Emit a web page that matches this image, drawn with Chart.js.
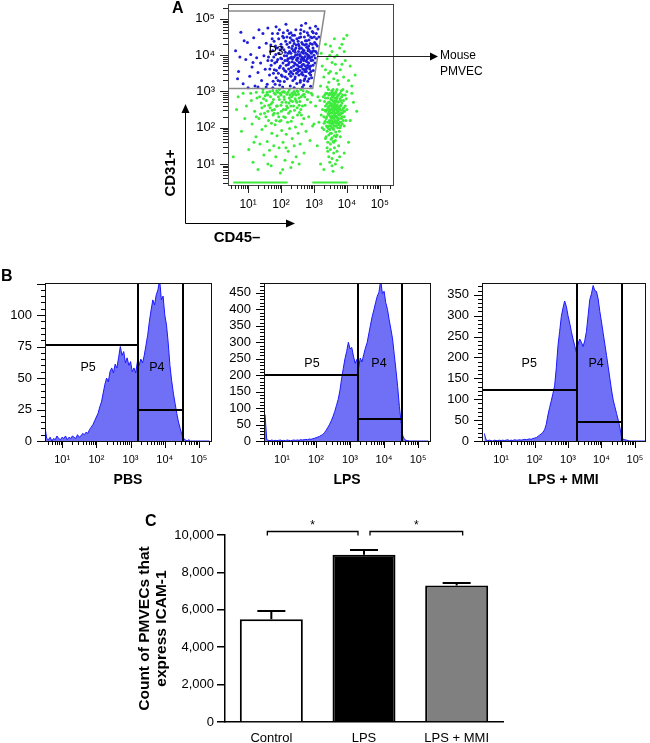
<!DOCTYPE html>
<html><head><meta charset="utf-8"><title>ICAM-1 expression in mouse PMVECs</title>
<script src="https://cdn.jsdelivr.net/npm/chart.js@4.4.1/dist/chart.umd.min.js"></script>
<style>
html,body{margin:0;padding:0;background:#fff;}
body{width:650px;height:743px;position:relative;overflow:hidden;font-family:"Liberation Sans",Arial,Helvetica,sans-serif;}
.cv{position:absolute;}
.lbl{position:absolute;white-space:nowrap;color:#000;}
.panel{font-weight:bold;font-size:16px;line-height:16px;}
.axt{font-weight:bold;font-size:15px;line-height:18px;height:18px;width:60px;text-align:center;}
</style></head>
<body>
<canvas id="cA" class="cv" width="210" height="210" style="left:190px;top:0px"></canvas>
<canvas id="cPBS" class="cv" width="211" height="215" style="left:5px;top:275px"></canvas>
<canvas id="cLPS" class="cv" width="211" height="215" style="left:224px;top:275px"></canvas>
<canvas id="cMMI" class="cv" width="208" height="215" style="left:442px;top:275px"></canvas>
<canvas id="cC" class="cv" width="383" height="238" style="left:130px;top:505px"></canvas>
<svg width="650" height="743" style="position:absolute;left:0;top:0;pointer-events:none">
  <g stroke="#000" stroke-width="1" fill="none">
    <line x1="185.5" y1="223.5" x2="185.5" y2="111"/>
    <line x1="185.5" y1="223.5" x2="288" y2="223.5"/>
    <line x1="317" y1="56.5" x2="431" y2="56.5" stroke="#222"/>
  </g>
  <g fill="#000">
    <polygon points="185.5,104 181.5,113 189.5,113"/>
    <polygon points="295,223.5 286,219.5 286,227.5"/>
    <polygon points="438,56.5 430,52.5 430,60.5"/>
  </g>
</svg>
<div class="lbl panel" style="left:172px;top:0px">A</div>
<div class="lbl panel" style="left:1px;top:268px">B</div>
<div class="lbl panel" style="left:145px;top:513px">C</div>
<div class="lbl" style="left:440px;top:46.6px;font-size:12px;line-height:16.5px">Mouse<br>PMVEC</div>
<div class="lbl axt" style="left:140px;top:164px;transform:rotate(-90deg)">CD31+</div>
<div class="lbl axt" style="left:207px;top:228px">CD45–</div>
<script>
// ---------- Panel A: CD45 (x) vs CD31 (y), values in decades (log10 of fluorescence) ----------
const decadeValues = [1, 2, 3, 4, 5];
const decadeLabels = ['10¹', '10²', '10³', '10⁴', '10⁵'];
const gateP3 = [[0.39, 5.22], [3.33, 5.22], [2.96, 3.08], [0.39, 3.08]];
const floorLevel = 0.49;
const floorSegments = [[0.55, 2.2], [2.95, 4.02]];
const blueCells = [
[0.62,4.12],[0.71,3.55],[0.78,4.63],[0.85,3.21],[0.93,3.88],[0.98,4.35],[1.05,3.42],[1.08,4.02],[1.12,3.67],[1.17,4.48],[1.21,3.15],[1.26,3.93],[1.3,3.52],[1.34,4.21],[1.38,3.78],[1.41,3.3],[1.45,4.6],[1.48,3.98],[1.52,3.61],[1.55,4.33],[1.58,3.2],[1.6,3.85],[0.75,3.95],[0.88,4.4],[1.15,3.8],[1.0,3.1],[1.33,4.7],[0.68,3.35],
[1.65,3.45],[1.68,4.1],[1.7,3.72],[1.73,4.45],[1.76,3.28],[1.78,3.95],[1.8,3.6],[1.83,4.25],[1.85,3.38],[1.87,3.82],[1.9,4.6],[1.92,3.5],[1.94,4.05],[1.96,3.18],[1.98,3.7],[2.0,4.3],[2.02,3.9],[2.04,3.42],[2.05,4.52],[2.07,3.63],[2.09,4.15],[2.1,3.27],[2.12,3.85],[2.14,4.38],[2.15,3.55],[2.17,3.98],[2.19,3.35],[2.2,4.68],[2.22,3.74],[2.24,4.22],[2.25,3.48],[2.27,3.92],[2.28,3.15],[2.3,4.05],[2.31,3.66],[2.33,4.42],[2.34,3.82],[2.36,3.3],[2.37,4.12],[2.39,3.58],[2.4,3.95],[2.41,4.55],[2.43,3.4],[2.44,3.75],[2.46,4.28],[2.47,3.88],[2.48,3.22],[2.5,4.02],[2.51,3.62],[2.52,4.38],[2.54,3.45],[2.55,3.8],[2.56,4.18],[2.58,3.98],[2.59,3.3],[2.6,4.5],[2.61,3.68],[2.63,4.08],[2.64,3.52],[2.65,3.9],[2.66,4.3],[2.68,3.75],[2.69,3.18],[2.7,4.12],[2.71,3.6],[2.73,3.96],[2.74,4.4],[2.75,3.42],[2.76,3.84],[2.78,4.22],[2.79,3.65],[2.8,4.02],[2.81,3.28],[2.83,4.55],[2.84,3.78],[2.85,4.14],[2.86,3.5],[2.88,3.92],[2.89,4.32],[2.9,3.7],[2.92,4.05],[2.93,3.38],[2.94,4.48],[2.96,3.86],[2.97,4.2],[2.98,3.58],[3.0,4.0],[3.02,4.35],[3.03,3.78],[3.05,4.1],[3.07,4.6],[3.1,4.25],[3.12,4.72],[3.15,4.5],
[2.21,3.9],[2.26,4.1],[2.29,3.55],[2.32,3.95],[2.35,4.25],[2.38,3.7],[2.42,4.15],[2.45,3.6],[2.49,3.85],[2.53,4.1],[2.57,3.58],[2.6,3.82],[2.62,4.2],[2.67,3.45],[2.7,3.88],[2.72,4.28],[2.77,3.55],[2.8,3.9],[2.82,4.12],[2.87,3.62],[2.91,3.85],[2.23,3.62],[2.27,4.35],[2.36,3.48],[2.44,4.0],[2.5,3.72],[2.55,4.25],[2.58,3.8],[2.63,3.95],[2.68,4.05],[2.74,3.7],[2.78,4.4],[2.85,3.98],[2.4,4.32],[2.47,3.5],[2.52,3.92],[2.66,3.62],[2.72,3.35],[2.81,3.72],[2.95,4.1],
[1.85,4.78],[2.15,4.85],[2.45,4.7],[2.62,4.82],[2.88,4.75],[2.98,4.62],[3.05,4.8],[2.3,4.62],[1.6,4.75],[2.75,4.88],
[1.3,3.12],[1.75,3.1],[2.05,3.12],[2.4,3.1],[2.65,3.12],[2.9,3.14],[1.55,3.12],
[2.22,4.05],[2.25,3.8],[2.28,4.48],[2.31,3.52],[2.33,4.18],[2.35,3.9],[2.38,4.4],[2.41,3.78],[2.43,4.08],[2.46,3.62],[2.48,4.45],[2.5,3.92],[2.53,4.3],[2.55,3.68],[2.57,4.02],[2.59,4.6],[2.61,3.88],[2.63,4.35],[2.64,3.72],[2.67,4.15],[2.69,3.85],[2.71,4.5],[2.73,3.55],[2.75,4.05],[2.77,4.3],[2.79,3.82],[2.8,4.62],[2.82,3.95],[2.84,4.25],[2.86,3.68],[2.88,4.1],[2.9,4.5],[2.91,3.55],[2.93,3.95],[2.95,4.3],[2.97,3.72],[2.99,4.12],[3.01,4.5],[3.04,3.92],[3.06,4.3],[3.08,4.45],[3.1,4.05],[2.6,4.7],[2.7,4.65],[2.85,4.42],[2.95,4.65],[2.55,4.48],[2.45,4.2],[2.35,4.55],[2.3,3.42],[2.42,3.35],[2.58,3.25],[2.7,3.3],[2.85,3.35],[2.62,3.48],[2.76,3.62],[2.9,3.45],[2.52,3.55],[2.68,3.92],[2.82,4.18],
[1.62,3.95],[1.66,3.62],[1.69,4.28],[1.72,3.85],[1.75,4.12],[1.77,3.5],[1.79,4.38],[1.81,3.78],[1.84,4.02],[1.86,3.58],[1.88,4.2],[1.9,3.88],[1.91,3.3],[1.93,4.45],[1.95,3.65],[1.97,4.15],[1.99,3.92],[2.01,3.45],[2.03,4.22],[2.06,3.78],[2.08,4.48],[2.1,3.98],[2.11,3.58],[2.13,4.08],[2.16,3.72],[2.18,4.3],[2.19,3.85],[2.13,3.4],[1.97,3.28],[1.82,3.2],[2.07,4.62],[1.95,4.7],[1.74,4.6],[2.25,4.6],[2.18,4.5]
];
const greenCells = [
[0.95,2.6],[1.02,1.4],[1.08,2.95],[1.12,2.1],[1.15,1.05],[1.2,2.45],[1.24,1.75],[1.27,2.82],[1.3,0.85],[1.33,2.25],[1.36,1.55],[1.4,2.68],[1.42,1.95],[1.45,2.98],[1.48,1.25],[1.5,2.4],[1.53,2.05],[1.55,2.75],[1.58,1.62],[1.6,2.9],[1.62,2.2],[1.65,1.38],[1.67,2.55],[1.7,0.95],[1.72,1.85],[1.74,2.7],[1.76,2.35],[1.78,1.5],[1.8,2.95],[1.82,2.08],[1.84,1.2],[1.86,2.6],[1.88,1.78],[1.9,2.4],[1.92,2.85],[1.94,1.45],[1.96,2.18],[1.98,0.75],[2.0,2.62],[2.02,1.92],[2.04,2.98],[2.06,1.6],[2.08,2.3],[2.1,2.78],[2.12,1.1],[2.14,2.5],[2.16,1.82],[2.18,2.92],[2.2,2.15],[2.22,1.35],[2.24,2.68],[2.26,1.98],[2.28,2.45],[2.3,0.9],[2.32,2.85],[2.34,1.7],[2.36,2.28],[2.38,2.6],[2.4,1.5],[2.42,2.95],[2.44,2.02],[2.46,1.2],[2.48,2.7],[2.5,2.35],[2.52,1.85],[2.55,2.82],[2.58,1.55],[2.6,2.5],[2.63,2.1],[2.66,2.9],[2.7,1.3],[2.73,2.62],[2.76,1.9],[2.8,2.78],[2.84,2.3],[2.88,1.65],[2.92,2.95],[2.96,2.05],[1.1,2.75],[1.25,2.98],[1.38,2.38],[1.52,2.88],[1.66,3.0],[1.73,2.48],[1.87,3.02],[2.01,2.45],[2.11,2.98],[2.27,2.9],[2.39,3.0],[2.53,2.92],[2.67,3.02],[2.83,2.98],[0.8,1.9],[0.65,2.5],[1.18,1.6],[2.05,0.85],[1.6,1.0],[2.35,1.05],[0.85,2.95],[1.45,3.05],[1.95,3.05],[2.25,3.04],[2.6,3.05],[2.45,2.75],[1.85,2.2],[2.15,2.7],[0.55,1.2],[0.7,2.85],[0.9,2.25],
[1.35,2.85],[1.58,2.98],[1.7,2.65],[1.95,2.78],[2.08,3.0],[2.2,2.55],[2.33,2.95],[2.48,3.02],[2.57,2.72],[2.7,2.92],[2.78,3.0],[2.9,2.7],[1.8,2.5],[2.0,2.9],[2.3,2.6],[2.62,2.35],[1.5,2.6],[1.25,2.3],[2.15,1.45],[2.55,1.0],
[1.42,2.55],[1.47,2.8],[1.54,2.3],[1.57,2.92],[1.63,2.62],[1.68,2.85],[1.71,2.12],[1.77,2.78],[1.79,2.4],[1.83,2.92],[1.89,2.6],[1.93,2.3],[1.97,2.95],[2.03,2.7],[2.07,2.5],[2.09,2.85],[2.13,2.28],[2.17,2.6],[2.21,2.98],[2.23,2.4],[2.29,2.75],[2.31,2.18],[2.37,2.9],[2.41,2.48],[2.43,2.8],[2.49,2.55],[2.51,3.0],[2.56,2.42],[2.61,2.85],[2.65,2.6],[2.69,2.25],[2.72,2.85],[1.6,2.45],[1.75,3.02],[2.0,2.2],[2.35,2.72],[2.46,2.9],[1.9,2.98],[2.25,2.82],[2.55,2.62],
[3.2,3.15],[3.3,3.4],[3.25,3.7],[3.45,3.25],[3.5,3.55],[3.4,3.9],[3.6,3.35],[3.65,3.75],[3.55,4.1],[3.75,3.2],[3.8,3.6],[3.7,4.0],[3.85,4.3],[3.9,3.4],[3.95,3.85],[4.0,4.55],[4.05,3.3],[4.1,3.7],[3.35,4.3],[3.62,4.45],[3.78,4.2],[3.92,4.1],[3.48,4.0],[4.15,3.15],[3.22,4.05],[3.88,3.05],[3.58,3.05],[3.4,3.12],[4.25,3.45],[3.68,3.5],
[3.45,3.5],[3.55,3.8],[3.72,3.3],[3.62,3.95],[3.85,3.75],[3.5,4.25],[3.9,4.45],[3.35,3.6],
[3.3,0.85],[3.55,0.95],[3.7,1.1],[3.45,1.2],[3.6,1.3],[3.4,1.45],[3.75,1.5],[3.5,1.55],[3.65,1.65],[3.35,1.7],[3.8,1.75],[3.55,1.72],[3.45,1.8],[3.0,2.1],[3.05,2.6],[2.95,2.9],[3.1,1.5],[4.1,2.2],[4.2,2.7],[4.05,1.6],[4.15,2.95],[4.3,2.45],[3.92,1.3],[3.2,1.0],[3.85,0.9],[3.95,2.9],[3.12,2.85],[4.0,3.0],
[3.5,1.4],[3.62,1.45],[3.7,1.35],[3.55,1.15],[3.48,1.05],[3.65,1.0],[3.58,0.8],[3.42,1.35],[3.78,1.2],[3.53,1.85],[3.67,1.75],[3.58,1.62],
[3.25,2.0],[3.3,2.3],[3.35,2.6],[3.28,2.85],[3.4,1.9],[3.42,2.15],[3.44,2.4],[3.46,2.7],[3.48,2.95],[3.5,1.85],[3.52,2.05],[3.53,2.25],[3.55,2.5],[3.56,2.65],[3.58,2.85],[3.6,1.95],[3.61,2.15],[3.62,2.35],[3.64,2.55],[3.65,2.75],[3.67,3.0],[3.68,2.05],[3.7,2.28],[3.72,2.48],[3.73,2.7],[3.75,2.9],[3.77,1.9],[3.78,2.15],[3.8,2.4],[3.82,2.62],[3.84,2.85],[3.86,2.1],[3.88,2.5],[3.9,2.75],[3.92,2.3],[3.95,2.6],[3.38,2.05],[3.36,2.45],[3.32,2.72],[3.4,2.95],[3.43,2.58],[3.47,2.2],[3.49,2.48],[3.51,2.78],[3.54,2.0],[3.57,2.32],[3.59,2.6],[3.63,2.82],[3.66,2.2],[3.69,2.42],[3.71,2.62],[3.74,2.1],[3.76,2.35],[3.79,2.8],[3.83,2.25],[3.87,2.42],[3.3,1.95],[3.34,2.18],[3.26,2.5],[3.45,2.05],[3.5,2.3],[3.52,2.6],[3.55,2.88],[3.58,2.1],[3.6,2.45],[3.63,2.68],[3.66,1.88],[3.68,2.6],[3.71,2.85],[3.73,2.22],[3.76,2.55],[3.81,2.05],[3.85,2.68],[3.89,2.2],[3.93,2.45],[3.42,2.82],[3.46,2.35],[3.53,2.4],[3.57,2.75],[3.61,2.28],[3.64,2.05],[3.67,2.5],[3.7,2.72],[3.74,2.38],[3.78,2.52],[3.8,2.95],[3.62,1.78],[3.48,1.95],[3.56,2.18],[3.59,2.95],[3.65,2.4],[3.72,2.0],[3.39,2.3],[3.33,2.9],[3.44,3.05],[3.54,3.02],[3.7,3.05],[3.83,3.02],[3.97,2.2],[4.0,2.5],[3.22,2.35],[3.18,2.75],[3.15,2.15],[3.98,2.8],[3.37,1.75],[3.6,1.6],[3.7,1.8],[3.52,1.68],[3.42,1.6],
[3.31,2.12],[3.33,2.48],[3.35,2.82],[3.37,2.25],[3.39,2.65],[3.41,2.02],[3.43,2.38],[3.45,2.9],[3.47,2.52],[3.49,2.12],[3.5,2.68],[3.52,2.92],[3.54,2.3],[3.56,2.55],[3.58,1.98],[3.6,2.72],[3.62,2.5],[3.63,2.18],[3.65,2.95],[3.67,2.32],[3.69,2.8],[3.71,2.15],[3.73,2.55],[3.75,2.25],[3.77,2.72],[3.79,2.0],[3.81,2.48],[3.83,2.75],[3.85,2.3],[3.87,2.9],[3.9,2.55],[3.92,2.05],[3.36,2.95],[3.44,1.98],[3.48,2.62],[3.53,2.82],[3.57,2.42],[3.61,2.05],[3.64,2.62],[3.68,2.3],[3.72,2.9],[3.76,2.08],[3.8,2.6],[3.84,2.4],[3.46,2.45],[3.55,2.12],[3.66,2.7],[3.74,2.45],[3.58,2.55],[3.62,2.9],[3.5,2.42],[3.7,2.55],[3.4,2.5],[3.78,2.35],[3.6,2.25],[3.52,2.18],[3.68,2.12],[3.56,2.98],[3.44,2.7],[3.82,2.15]
];

// ---------- Panel B: ICAM-1 histograms (x in decades, y = count) ----------
const histBins = [0.50,0.55,0.60,0.65,0.70,0.75,0.80,0.85,0.90,0.95,1.00,1.05,1.10,1.15,1.20,1.25,1.30,1.35,1.40,1.45,1.50,1.55,1.60,1.65,1.70,1.75,1.80,1.85,1.90,1.95,2.00,2.05,2.10,2.15,2.20,2.25,2.30,2.35,2.40,2.45,2.50,2.55,2.60,2.65,2.70,2.75,2.80,2.85,2.90,2.95,3.00,3.05,3.10,3.15,3.20,3.25,3.30,3.35,3.40,3.45,3.50,3.55,3.60,3.65,3.70,3.75,3.80,3.85,3.90,3.95,4.00,4.05,4.10,4.15,4.20,4.25,4.30,4.35,4.40,4.45,4.50,4.55,4.60,4.65,4.70,4.75,4.80,4.85,4.90,4.95,5.00,5.05,5.10,5.15,5.20,5.25,5.30];
const pbsCounts = [11,2,1,3,0,2,1,4,2,1, 3,2,4,1,3,2,4,3,2,5, 3,4,6,5,7,6,9,11,13,16, 19,22,27,31,38,45,50,47,55,58, 54,61,58,66,75,68,71,62,66,60, 63,55,58,54,63,60,65,62,68,76, 84,95,104,112,108,116,120,128,112,115, 100,92,78,60,48,38,30,22,15,10, 5,2,1,0,1,0,0,0,0,0, 0,0,0,0,0,0,0];
const lpsCounts = [80,4,2,1,3,1,2,1,2,3, 1,2,1,3,2,1,2,3,2,3, 2,4,3,4,5,4,6,5,7,8, 10,12,14,17,20,26,33,42,51,62, 75,90,108,126,152,188,220,250,272,300, 280,284,258,236,248,222,252,240,262,282, 298,325,352,378,398,420,440,452,490,448, 455,420,400,368,340,310,262,215,165,105, 58,16,5,2,1,0,0,0,0,0, 0,0,0,0,0,0,0];
const mmiCounts = [18,3,1,2,1,0,2,1,1,2, 1,2,1,2,3,1,2,1,3,2, 2,3,2,3,4,3,4,5,4,6, 7,8,11,14,17,21,27,40,62,80, 96,114,132,175,228,262,298,318,335,322, 300,282,262,244,228,212,232,244,236,226, 240,262,300,338,352,372,360,358,340,310, 285,258,232,205,178,150,122,98,82,66, 50,32,10,4,3,2,1,0,0,0, 0,0,0,0,0,0,0];
const pbsYTicks = [0, 25, 50, 75, 100];
const lpsYTicks = [0, 50, 100, 150, 200, 250, 300, 350, 400, 450];
const mmiYTicks = [0, 50, 100, 150, 200, 250, 300, 350];
// gate: [P4 start, P4 end, P5 marker level, P4 marker level]
const pbsGate = [3.22, 4.53, 76, 25];
const lpsGate = [3.24, 4.53, 200, 66];
const mmiGate = [3.27, 4.60, 122, 46];
const pbsLabelPos = [[1.76, 58], [3.77, 58]];
const lpsLabelPos = [[1.88, 236], [3.85, 236]];
const mmiLabelPos = [[1.84, 185], [3.84, 185]];

// ---------- Panel C: ICAM-1 positive PMVEC counts ----------
const groups = ['Control', 'LPS', 'LPS + MMI'];
const icamMean = [5500, 8950, 7300];
const icamSem = [430, 250, 110];
const barFill = ['#ffffff', '#000000', '#808080'];
const sigPairs = [[0, 1], [1, 2]];
const sigLevel = 10200;

Chart.defaults.font.family = '"Liberation Sans", Arial, Helvetica, sans-serif';
Chart.defaults.color = '#000';

function noPad(s) { s.paddingTop = 0; s.paddingBottom = 0; s.paddingLeft = 0; s.paddingRight = 0; }
function decadeAxis(min, max, fontSize, padding, size, isY) {
  return {
    type: 'linear', min: min, max: max,
    afterBuildTicks: s => { s.ticks = decadeValues.map(v => ({ value: v })); },
    ticks: { autoSkip: false, maxRotation: 0, padding: padding, font: { size: fontSize },
      callback: v => { const i = decadeValues.indexOf(v); return i >= 0 ? decadeLabels[i] : ''; } },
    grid: { display: false, drawTicks: false },
    border: { display: false },
    afterFit: s => { if (isY) s.width = size; else s.height = size; noPad(s); }
  };
}
function tickMarks(spec) {
  return { id: 'tickMarks', afterDraw(chart) {
    const ctx = chart.ctx, ca = chart.chartArea;
    ctx.save(); ctx.strokeStyle = spec.color || '#000'; ctx.lineWidth = 1;
    ['x', 'y'].forEach(ax => {
      const s = chart.scales[ax], o = spec[ax], list = [];
      if (o.kind === 'log') {
        for (let d = Math.floor(s.min); d <= Math.ceil(s.max); d++) {
          list.push([d, true]);
          for (let k = 2; k < 10; k++) list.push([d + Math.log10(k), false]);
        }
      } else {
        for (let v = 0; v <= s.max + 1e-6; v += o.minorStep) list.push([v, Math.abs(v / o.majorStep - Math.round(v / o.majorStep)) < 1e-6]);
      }
      list.forEach(([v, maj]) => {
        if (v < s.min - 1e-6 || v > s.max + 1e-6) return;
        const p = Math.round(s.getPixelForValue(v)) + 0.5, len = maj ? o.major : o.minor;
        ctx.beginPath();
        if (ax === 'x') { ctx.moveTo(p, ca.bottom); ctx.lineTo(p, ca.bottom + len); }
        else { ctx.moveTo(ca.left, p); ctx.lineTo(ca.left - len, p); }
        ctx.stroke();
      });
    });
    ctx.restore();
  }};
}
function framePlugin(color) {
  return { id: 'frame', afterDatasetsDraw(chart) {
    const ctx = chart.ctx, ca = chart.chartArea;
    ctx.save(); ctx.strokeStyle = color; ctx.lineWidth = 1;
    ctx.strokeRect(Math.round(ca.left) + 0.5, Math.round(ca.top) + 0.5, Math.round(ca.right - ca.left), Math.round(ca.bottom - ca.top));
    ctx.restore();
  }};
}
const commonOpts = { responsive: false, animation: false, devicePixelRatio: 1,
  plugins: { legend: { display: false }, tooltip: { enabled: false } } };

// ----- Panel A chart -----
const p3Label = { id: 'p3Label', afterDatasetsDraw(chart) {
  const ctx = chart.ctx, x = chart.scales.x, y = chart.scales.y;
  ctx.save(); ctx.fillStyle = '#000'; ctx.font = '12px "Liberation Sans", Arial';
  ctx.textAlign = 'center'; ctx.textBaseline = 'middle';
  ctx.fillText('P3', x.getPixelForValue(1.85), y.getPixelForValue(4.1));
  ctx.restore();
}};
new Chart(document.getElementById('cA'), {
  type: 'scatter',
  data: { datasets: [
    { label: 'Gate P3', data: gateP3.map(p => ({ x: p[0], y: p[1] })), showLine: true, borderColor: '#8a8a8a', borderWidth: 1.5, pointRadius: 0, fill: false },
    { label: 'P3 (CD31+ CD45−)', data: blueCells.map(p => ({ x: p[0], y: p[1] })), backgroundColor: 'rgb(30,30,215)', borderWidth: 0, pointRadius: 1.5 },
    { label: 'Other events', data: greenCells.map(p => ({ x: p[0], y: p[1] })), backgroundColor: 'rgb(60,235,60)', borderWidth: 0, pointRadius: 1.5 },
    { label: 'Axis floor 1', data: floorSegments[0].map(v => ({ x: v, y: floorLevel })), showLine: true, borderColor: 'rgb(60,235,60)', borderWidth: 2, pointRadius: 0 },
    { label: 'Axis floor 2', data: floorSegments[1].map(v => ({ x: v, y: floorLevel })), showLine: true, borderColor: 'rgb(60,235,60)', borderWidth: 2, pointRadius: 0 }
  ]},
  options: Object.assign({}, commonOpts, {
    layout: { padding: { top: 3, right: 7, left: 0, bottom: 0 } },
    scales: {
      x: decadeAxis(0.39, 5.4, 12, 12, 25, false),
      y: decadeAxis(0.42, 5.41, 13, 13, 38, true)
    }
  }),
  plugins: [framePlugin('#444'), tickMarks({ color: '#222', x: { kind: 'log', major: 8, minor: 4 }, y: { kind: 'log', major: 8, minor: 5 } }), p3Label]
});

// ----- Panel B charts -----
function gatePlugin(gate, p5, p4) {
  return { id: 'gates', afterDatasetsDraw(chart) {
    const ctx = chart.ctx, x = chart.scales.x, y = chart.scales.y, ca = chart.chartArea;
    const xa = Math.round(x.getPixelForValue(gate[0])), xb = Math.round(x.getPixelForValue(gate[1]));
    const y5 = Math.round(y.getPixelForValue(gate[2])), y4 = Math.round(y.getPixelForValue(gate[3]));
    ctx.save(); ctx.strokeStyle = '#000'; ctx.lineWidth = 2;
    ctx.beginPath();
    ctx.moveTo(xa, ca.top); ctx.lineTo(xa, ca.bottom);
    ctx.moveTo(xb, ca.top); ctx.lineTo(xb, ca.bottom);
    ctx.moveTo(ca.left, y5); ctx.lineTo(xa, y5);
    ctx.moveTo(xa, y4); ctx.lineTo(xb, y4);
    ctx.stroke();
    ctx.fillStyle = '#000'; ctx.font = '12.5px "Liberation Sans", Arial';
    ctx.textAlign = 'center'; ctx.textBaseline = 'middle';
    ctx.fillText('P5', x.getPixelForValue(p5[0]), y.getPixelForValue(p5[1]));
    ctx.fillText('P4', x.getPixelForValue(p4[0]), y.getPixelForValue(p4[1]));
    ctx.restore();
  }};
}
function histogram(id, counts, yMax, yTicks, minorStep, majorStep, xMin, xMax, gate, labelPos, title) {
  const xAxis = decadeAxis(xMin, xMax, 11, 12, 49, false);
  xAxis.title = { display: true, text: title, color: '#000', font: { size: 14, weight: 'bold', lineHeight: 1.2 }, padding: { top: 0, bottom: 1 } };
  return new Chart(document.getElementById(id), {
    type: 'line',
    data: { datasets: [{ label: title, data: histBins.map((b, i) => ({ x: b, y: counts[i] })),
      borderColor: 'rgb(25,25,255)', borderWidth: 1, backgroundColor: 'rgb(112,112,246)', fill: 'origin', pointRadius: 0, tension: 0 }] },
    options: Object.assign({}, commonOpts, {
      layout: { padding: { top: 8, right: 5, left: 0, bottom: 0 } },
      scales: {
        x: xAxis,
        y: { type: 'linear', min: 0, max: yMax,
          afterBuildTicks: s => { s.ticks = yTicks.map(v => ({ value: v })); },
          ticks: { autoSkip: false, padding: 13, font: { size: 13 } },
          grid: { display: false, drawTicks: false }, border: { display: false },
          afterFit: s => { s.width = 40; noPad(s); } }
      }
    }),
    plugins: [gatePlugin(gate, labelPos[0], labelPos[1]), framePlugin('#111'),
      tickMarks({ x: { kind: 'log', major: 7, minor: 4 }, y: { kind: 'lin', major: 8, minor: 4, minorStep: minorStep, majorStep: majorStep } })]
  });
}
histogram('cPBS', pbsCounts, 125.4, pbsYTicks, 5, 25, 0.5, 5.35, pbsGate, pbsLabelPos, 'PBS');
histogram('cLPS', lpsCounts, 480, lpsYTicks, 10, 50, 0.47, 5.35, lpsGate, lpsLabelPos, 'LPS');
histogram('cMMI', mmiCounts, 378, mmiYTicks, 10, 50, 0.43, 5.3, mmiGate, mmiLabelPos, 'LPS + MMI');

// ----- Panel C chart -----
const errAndSig = { id: 'errAndSig', afterDatasetsDraw(chart) {
  const ctx = chart.ctx, x = chart.scales.x, y = chart.scales.y;
  ctx.save(); ctx.strokeStyle = '#000'; ctx.lineWidth = 2;
  icamMean.forEach((m, i) => {
    const cx = x.getPixelForValue(i), yt = y.getPixelForValue(m), ye = Math.round(y.getPixelForValue(m + icamSem[i]));
    ctx.beginPath(); ctx.moveTo(cx, yt); ctx.lineTo(cx, ye);
    ctx.moveTo(cx - 14, ye); ctx.lineTo(cx + 14, ye); ctx.stroke();
  });
  ctx.lineWidth = 1.3;
  const ys = Math.round(y.getPixelForValue(sigLevel)) + 0.5, yb = ys + 4;
  sigPairs.forEach((pr, k) => {
    const off = k === 0 ? [-4, -6] : [6, 6];
    const x1 = x.getPixelForValue(pr[0]) + off[0], x2 = x.getPixelForValue(pr[1]) + off[1];
    ctx.beginPath(); ctx.moveTo(x1, yb); ctx.lineTo(x1, ys); ctx.lineTo(x2, ys); ctx.lineTo(x2, yb); ctx.stroke();
    ctx.fillStyle = '#000'; ctx.font = '12px "Liberation Sans", Arial'; ctx.textAlign = 'center'; ctx.textBaseline = 'alphabetic';
    ctx.fillText('*', (x1 + x2) / 2, ys - 3);
  });
  ctx.restore();
}};
new Chart(document.getElementById('cC'), {
  type: 'bar',
  data: { labels: groups, datasets: [{ label: 'ICAM-1+ PMVECs', data: icamMean, backgroundColor: barFill, borderColor: '#000', borderWidth: 2, barPercentage: 0.68, categoryPercentage: 1 }] },
  options: Object.assign({}, commonOpts, {
    layout: { padding: { top: 30, right: 10, left: 0, bottom: 0 } },
    scales: {
      x: { grid: { display: false, drawTicks: false }, border: { color: '#000', width: 1.5 },
        ticks: { font: { size: 13 }, padding: 9 }, afterFit: s => { s.height = 21; } },
      y: { min: 0, max: 10000,
        ticks: { stepSize: 2000, font: { size: 13 }, padding: 3, callback: v => v.toLocaleString('en-US') },
        grid: { drawOnChartArea: false, tickLength: 8, color: '#000', lineWidth: 1.5 },
        border: { color: '#000', width: 1.5 },
        title: { display: true, text: ['Count of PMVECs that', 'express ICAM-1'], color: '#000', font: { size: 15.5, weight: 'bold', lineHeight: 1.1 }, padding: { top: 6 } },
        afterFit: s => { s.width = 95; } }
    }
  }),
  plugins: [errAndSig]
});
</script>
</body></html>
